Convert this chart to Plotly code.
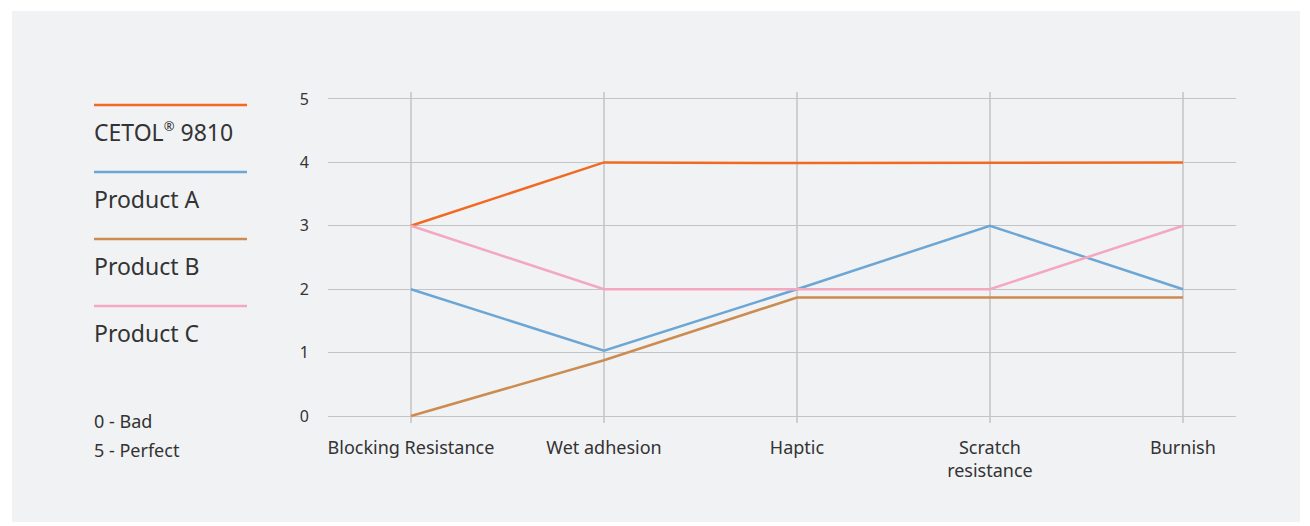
import plotly.graph_objects as go

categories = ["Blocking Resistance", "Wet adhesion", "Haptic", "Scratch<br>resistance", "Burnish"]
series_names = ["CETOL<sup><span style='font-size:13px'>®</span></sup> 9810", "Product A", "Product B", "Product C"]
cetol = [3, 4, 3.99, 4, 4]
product_a = [2, 1.03, 2.0, 3, 2]
product_b = [0, 0.88, 1.87, 1.87, 1.87]
product_c = [3, 2, 2, 2, 3]
colors = ["#F26A22", "#6CA6D5", "#CC8C50", "#F5A7BF"]
y_ticks = [0, 1, 2, 3, 4, 5]
notes = ["0 - Bad", "5 - Perfect"]

OFF = 8  # page body margin
W, H = 1310 - OFF, 526 - OFF
L, R, T, B = 328 - OFF, 1236 - OFF, 92 - OFF, 423 - OFF
BG = "#F1F2F4"
TXT = "#333333"
FONT = "Noto Sans"

def px(x):
    return (x - OFF - L) / (R - L)

def py(y):
    return (B - (y - OFF)) / (B - T)

fig = go.Figure()
for name, vals, col in zip(series_names, [cetol, product_a, product_b, product_c], colors):
    fig.add_trace(go.Scatter(x=categories, y=vals, mode="lines", name=name,
                             line=dict(color=col, width=2.5), showlegend=False))

shapes = [dict(type="rect", xref="paper", yref="paper", x0=px(12), x1=px(1300),
               y0=py(522), y1=py(11), fillcolor=BG, line=dict(width=0), layer="below")]
annotations = []
legend_line_y = [105, 172, 239, 306]
legend_text_y = [132, 199, 266, 333]
for name, col, ly, ty in zip(series_names, colors, legend_line_y, legend_text_y):
    shapes.append(dict(type="line", xref="paper", yref="paper", x0=px(94), x1=px(247),
                       y0=py(ly), y1=py(ly), line=dict(color=col, width=2.5)))
    annotations.append(dict(xref="paper", yref="paper", x=px(92), y=py(ty), text=name,
                            showarrow=False, xanchor="left", yanchor="middle",
                            font=dict(size=23, color=TXT, family=FONT)))
for note, ny in zip(notes, [421, 450]):
    annotations.append(dict(xref="paper", yref="paper", x=px(92), y=py(ny), text=note,
                            showarrow=False, xanchor="left", yanchor="middle",
                            font=dict(size=18, color=TXT, family=FONT)))

fig.update_layout(
    width=W, height=H,
    margin=dict(l=L, r=W - R, t=T, b=H - B),
    paper_bgcolor="white", plot_bgcolor=BG,
    font=dict(family=FONT, color=TXT, size=18),
    shapes=shapes, annotations=annotations,
    xaxis=dict(type="category", range=[-0.43, 4.275], showgrid=True,
               gridcolor="#CFCFD1", gridwidth=1.5, zeroline=False, showline=False,
               ticks="", tickfont=dict(size=18, color=TXT, family=FONT),
               ticklabelstandoff=12),
    yaxis=dict(range=[-0.11, 5.11], tickvals=y_ticks, showgrid=True,
               gridcolor="#C4C4C6", gridwidth=1.2, zeroline=False, showline=False,
               ticks="", tickfont=dict(size=16, color=TXT, family=FONT),
               ticklabelstandoff=18),
)

fig.write_html("out.html")
